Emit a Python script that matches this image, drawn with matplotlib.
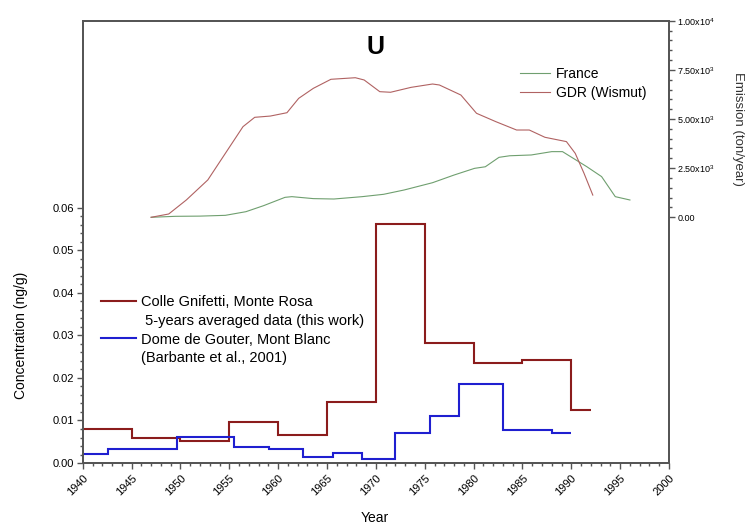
import matplotlib
matplotlib.use('Agg')
import matplotlib.pyplot as plt
from matplotlib.lines import Line2D
from matplotlib.ticker import MultipleLocator, FixedLocator

plt.rcParams['font.family'] = ['Liberation Sans', 'DejaVu Sans']
plt.rcParams['mathtext.default'] = 'regular'

# Colle Gnifetti, Monte Rosa (5-year means)
cg_edges = [1940, 1945, 1950, 1955, 1960, 1965, 1970, 1975, 1980, 1985, 1990, 1992]
cg_conc = [0.0080, 0.0058, 0.0052, 0.0096, 0.0065, 0.0144, 0.0561, 0.0283, 0.0236, 0.0243, 0.0125]

# Dome de Gouter, Mont Blanc
dg_edges = [1940, 1942.6, 1949.6, 1955.5, 1959.1, 1962.5, 1965.6, 1968.6, 1972.0,
            1975.5, 1978.5, 1983.0, 1988.0, 1990.0]
dg_conc = [0.0021, 0.0033, 0.0062, 0.0037, 0.0034, 0.0014, 0.0024, 0.0009, 0.0070,
           0.0111, 0.0185, 0.0077, 0.0071]

# emissions (ton/year)
fr_years = [1947.0, 1949.5, 1952.0, 1954.6, 1956.7, 1958.5, 1960.7, 1961.4, 1963.6, 1965.7,
            1968.6, 1970.8, 1972.9, 1975.8, 1978.0, 1980.1, 1981.2, 1982.6, 1983.7, 1985.9,
            1988.0, 1989.1, 1991.6, 1993.1, 1994.5, 1996.0]
fr_emis = [0, 50, 60, 100, 285, 590, 1015, 1050, 950, 930,
           1050, 1170, 1390, 1760, 2150, 2490, 2570, 3050, 3130, 3170,
           3340, 3340, 2570, 2070, 1050, 880]

gdr_years = [1947.0, 1948.8, 1950.6, 1952.8, 1954.6, 1956.4, 1957.6, 1959.2, 1960.9, 1962.1,
             1963.6, 1965.4, 1967.9, 1968.8, 1970.4, 1971.5, 1973.6, 1975.8, 1976.5, 1978.7,
             1980.3, 1982.3, 1984.4, 1985.7, 1987.3, 1989.5, 1990.4, 1991.3, 1992.2]
gdr_emis = [0, 168, 880, 1900, 3255, 4610, 5086, 5150, 5320, 6050,
            6560, 7020, 7100, 6985, 6390, 6360, 6610, 6780, 6730, 6220,
            5290, 4860, 4440, 4440, 4070, 3850, 3255, 2240, 1130]

conc_ticks = [0.00, 0.01, 0.02, 0.03, 0.04, 0.05, 0.06]
emis_ticks = [0, 2500, 5000, 7500, 10000]
emis_labels = ['0.00', '2.50x10$^3$', '5.00x10$^3$', '7.50x10$^3$', '1.00x10$^4$']
year_ticks = list(range(1940, 2001, 5))

spine_col = '#555555'

fig = plt.figure(figsize=(7.46, 5.27), dpi=100)
ax = fig.add_axes([0.1109, 0.1214, 0.7859, 0.8393])
ax2 = ax.twinx()

ax.stairs(cg_conc, cg_edges, baseline=None, color='#8b1c1c', lw=1.5)
ax.stairs(dg_conc, dg_edges, baseline=None, color='#1f1fd0', lw=1.5)

ax2.plot(fr_years, fr_emis, color='#6f9f6f', lw=0.8)
ax2.plot(gdr_years, gdr_emis, color='#b06262', lw=0.8)

ax.set_xlim(1940, 2000)
ax.set_ylim(0, 0.104)
ax2.set_ylim(-12500, 10000)

ax.set_xticks(year_ticks)
ax.xaxis.set_minor_locator(MultipleLocator(1))
ax.set_xticklabels([str(y) for y in year_ticks], rotation=45, ha='right', va='top',
                   rotation_mode='anchor', fontsize=8)

ax.yaxis.set_major_locator(FixedLocator(conc_ticks))
ax.yaxis.set_minor_locator(FixedLocator([i * 0.002 for i in range(31)]))
ax.set_yticklabels(['%.2f' % v for v in conc_ticks], fontsize=8)

ax2.yaxis.set_major_locator(FixedLocator(emis_ticks))
ax2.yaxis.set_minor_locator(FixedLocator(list(range(0, 10001, 500))))
ax2.set_yticklabels(emis_labels, fontsize=6.5)

for a in (ax, ax2):
    a.tick_params(which='major', length=4, width=1, color=spine_col, direction='out')
    a.tick_params(which='minor', length=2.5, width=1, color=spine_col, direction='out')
    for s in a.spines.values():
        s.set_color(spine_col)
        s.set_linewidth(1.3)
ax.tick_params(axis='x', pad=3)
ax.tick_params(axis='y', pad=2)
ax2.tick_params(axis='y', pad=2)

fig.text(0.028, 0.363, 'Concentration (ng/g)', rotation=90, ha='center', va='center', fontsize=10)
fig.text(0.989, 0.755, 'Emission (ton/year)', rotation=270, ha='center', va='center',
         fontsize=9.5, color='#333333')
fig.text(0.503, 0.017, 'Year', ha='center', va='center', fontsize=10)
ax.text(0.5, 0.94, 'U', transform=ax.transAxes, ha='center', va='center',
        fontsize=18, fontweight='bold')

blank = Line2D([], [], color='none')
h1 = Line2D([], [], color='#8b1c1c', lw=1.5)
h2 = Line2D([], [], color='#1f1fd0', lw=1.5)
ax.legend([h1, blank, h2, blank],
          ['Colle Gnifetti, Monte Rosa', ' 5-years averaged data (this work)',
           'Dome de Gouter, Mont Blanc', '(Barbante et al., 2001)'],
          loc='upper left', bbox_to_anchor=(0.032, 0.38), frameon=False,
          fontsize=10.5, borderpad=0, borderaxespad=0, handlelength=2.4,
          handletextpad=0.3, labelspacing=0.33)

h3 = Line2D([], [], color='#6f9f6f', lw=0.8)
h4 = Line2D([], [], color='#b06262', lw=0.8)
ax2.legend([h3, h4], ['France', 'GDR (Wismut)'], loc='upper left',
           bbox_to_anchor=(0.745, 0.895), frameon=False, fontsize=10,
           borderpad=0, borderaxespad=0, handlelength=2.2, handletextpad=0.4,
           labelspacing=0.35)

fig.savefig('out.png', dpi=100)
